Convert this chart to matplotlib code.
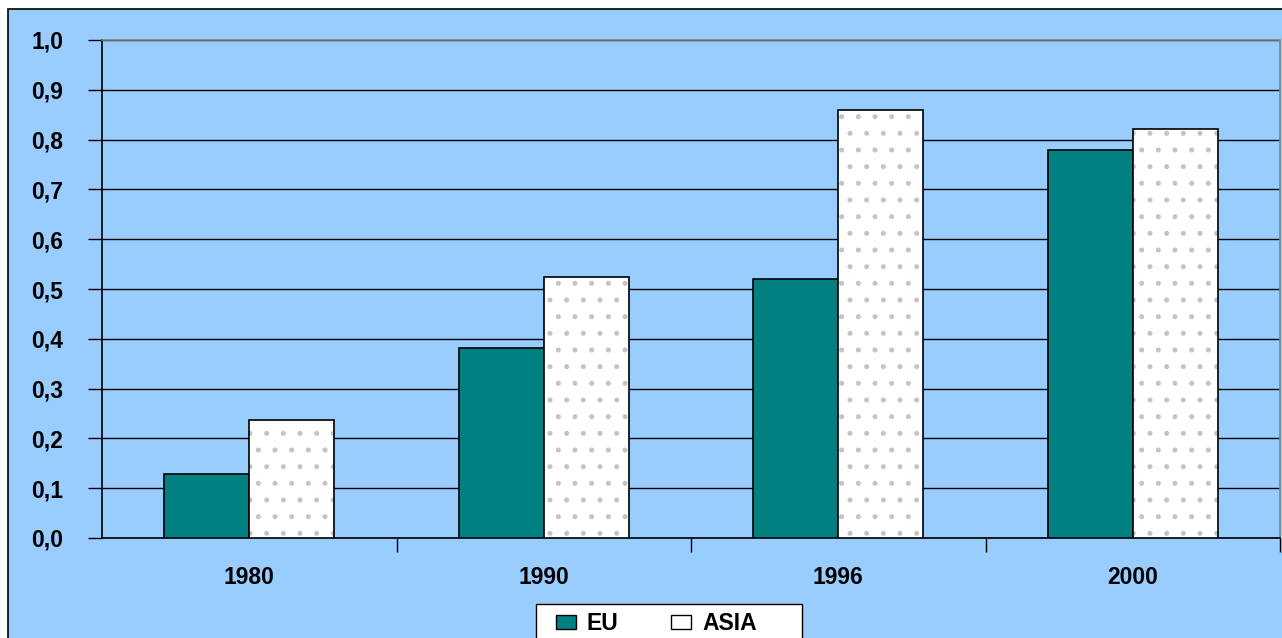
import matplotlib.pyplot as plt
import numpy as np
from matplotlib.patches import Rectangle, Patch

years = ["1980", "1990", "1996", "2000"]
eu = [0.128, 0.382, 0.520, 0.779]
asia = [0.237, 0.524, 0.859, 0.821]
yticks = [0.0, 0.1, 0.2, 0.3, 0.4, 0.5, 0.6, 0.7, 0.8, 0.9, 1.0]

plt.rcParams['font.family'] = ['Liberation Sans', 'DejaVu Sans']
plt.rcParams['hatch.linewidth'] = 1.2

BG = "#99CCFF"
TEAL = "#008080"
FS = 16.5

fig = plt.figure(figsize=(12.82, 6.38), dpi=100, facecolor="white")
W, H = 1282, 638
# chart area background with black border (right/bottom run off the canvas)
fig.patches.append(Rectangle((8 / W, -0.05), 1.2, 1 - 9 / H + 0.05,
                             transform=fig.transFigure, facecolor=BG,
                             edgecolor="black", linewidth=1.2, zorder=-5))

ax = fig.add_axes([102 / W, 1 - 538 / H, 1178 / W, 498 / H])
ax.set_facecolor(BG)

x = np.arange(len(years))
w = 0.289
ax.bar(x - w / 2, eu, w, color=TEAL, edgecolor="black", linewidth=1.2, zorder=3)
# ASIA: white with light grey dotted pattern, then black outline
ax.bar(x + w / 2, asia, w, color="white", edgecolor="#C4C4C4", hatch=".",
       linewidth=0, zorder=3)
ax.bar(x + w / 2, asia, w, fill=False, edgecolor="black", linewidth=1.2, zorder=4)

ax.set_xlim(-0.5, len(years) - 0.5)
ax.set_ylim(0, 1.0)
ax.set_yticks(yticks)
ax.set_yticklabels([f"{v:.1f}".replace(".", ",") for v in yticks],
                   fontsize=FS, fontweight="bold")
ax.yaxis.grid(True, color="black", linewidth=1)
ax.set_axisbelow(True)

ax.set_xticks(x)
ax.set_xticklabels(years, fontsize=FS, fontweight="bold")
ax.set_xticks(np.arange(0.5, len(years), 1), minor=True)
ax.tick_params(axis="x", which="major", length=0, pad=20)
ax.tick_params(axis="x", which="minor", length=10, width=1, direction="out")
ax.tick_params(axis="y", length=10, width=1, direction="out", pad=18)

ax.spines["left"].set_color("black")
ax.spines["bottom"].set_color("black")
ax.spines["top"].set_color("#808080")
ax.spines["right"].set_color("#808080")
for s in ax.spines.values():
    s.set_linewidth(1.2)

# legend box (runs off the bottom edge, as in the original)
fig.patches.append(Rectangle((536 / W, -0.05), 266 / W, 1 - 604 / H + 0.05,
                             transform=fig.transFigure, facecolor="white",
                             edgecolor="black", linewidth=1, zorder=5))
handles = [Patch(facecolor=TEAL, edgecolor="black", label="EU"),
           Patch(facecolor="white", edgecolor="black", label="ASIA")]
leg = fig.legend(handles=handles, loc="upper left", ncol=2,
                 bbox_to_anchor=(556 / W, 1 - 612 / H),
                 prop={"size": FS, "weight": "bold"}, frameon=False,
                 borderpad=0, columnspacing=2.3, handlelength=0.87,
                 handleheight=0.6, handletextpad=0.48, borderaxespad=0)
leg.set_zorder(6)

fig.savefig("out.png", dpi=100, facecolor="white")
